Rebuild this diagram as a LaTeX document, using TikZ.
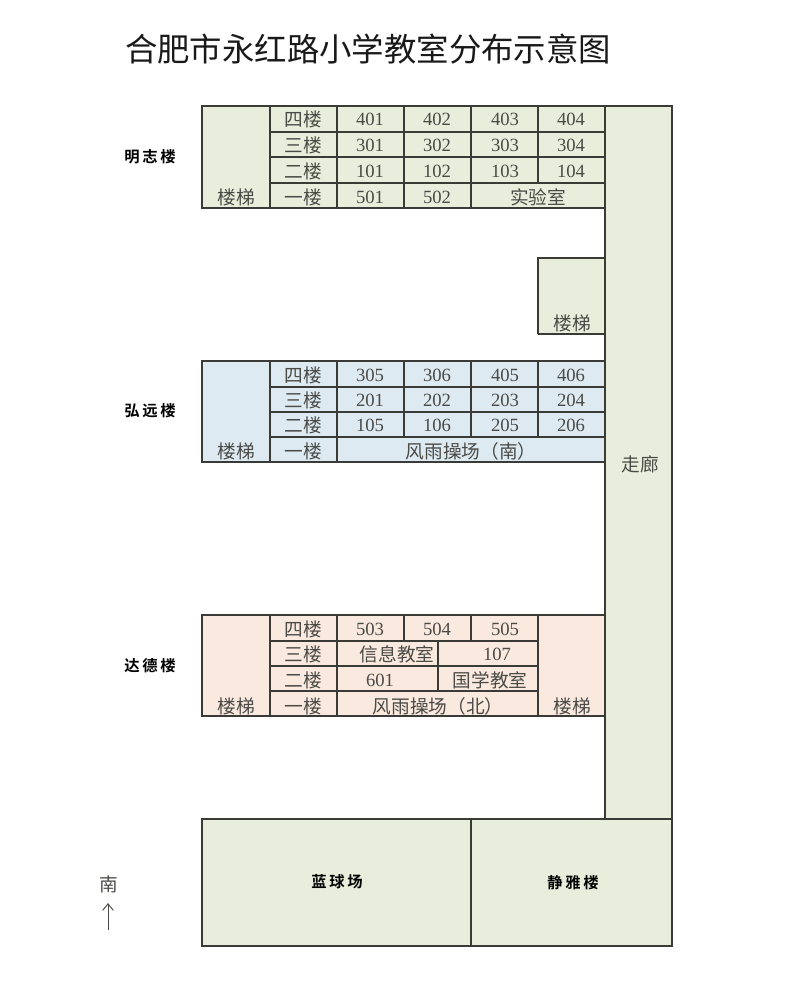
\documentclass[tikz,border=0pt]{standalone}
\usepackage{fontspec}
\usepackage{xcolor}
\usepackage{tikz}
\usetikzlibrary{arrows.meta}
\setmainfont{Liberation Serif}
\newfontfamily\cjk{Noto Sans CJK SC}
\newfontfamily\cjkbold{Noto Sans CJK SC Bold}
\definecolor{zoneGreen}{HTML}{E9EEDC}
\definecolor{zoneBlue}{HTML}{DEEAF2}
\definecolor{zoneOrange}{HTML}{FAE9DE}
\definecolor{wallGrey}{HTML}{3A3A36}
\definecolor{inkGrey}{HTML}{4A4A46}
\tikzset{
	wall/.style={draw=wallGrey, line width=1.1pt},
	room/.style={inner sep=0pt, yshift=-0.6pt, text=inkGrey, font=\fontsize{14}{16}\selectfont},
	cnroom/.style={inner sep=0pt, text=inkGrey, font=\cjk\fontsize{14}{16}\selectfont},
	hall/.style={inner sep=0pt, text=black, font=\cjkbold\fontsize{11.5}{13}\selectfont},
}
\begin{document}
\begin{tikzpicture}[x=0.75pt, y=-0.75pt]
	\useasboundingbox (0,0) rectangle (800,982);
	\node[inner sep=0pt, text=black!90, font=\cjk\fontsize{24.3}{28}\selectfont] at(368, 49) (title){合肥市永红路小学教室分布示意图};
	% corridor and bottom block
	\fill[fill=zoneGreen] (605,106) rectangle (672,819);
	\fill[fill=zoneGreen] (202,819) rectangle (672,946);
	\fill[fill=zoneGreen] (538,258) rectangle (605,334);
	\draw[wall] (605,106) rectangle (672,819);
	\draw[wall] (202,819) rectangle (672,946);
	\draw[wall] (471,819) -- (471,946);
	\draw[wall] (538,334) -- (538,258) -- (605,258);
	\draw[wall] (538,334) -- (605,334);
	% north building
	\fill[fill=zoneGreen] (202,106) rectangle (605,208);
	\draw[wall] (202,106) rectangle (605,208);
	\draw[wall] (270,132) -- (605,132);
	\draw[wall] (270,157) -- (605,157);
	\draw[wall] (270,183) -- (605,183);
	\draw[wall] (270,106) -- (270,208);
	\draw[wall] (337,106) -- (337,208);
	\draw[wall] (404,106) -- (404,208);
	\draw[wall] (471,106) -- (471,208);
	\draw[wall] (538,106) -- (538,183);
	% middle building
	\fill[fill=zoneBlue] (202,361) rectangle (605,462);
	\draw[wall] (202,361) rectangle (605,462);
	\draw[wall] (270,387) -- (605,387);
	\draw[wall] (270,412) -- (605,412);
	\draw[wall] (270,437) -- (605,437);
	\draw[wall] (270,361) -- (270,462);
	\draw[wall] (337,361) -- (337,462);
	\draw[wall] (404,361) -- (404,437);
	\draw[wall] (471,361) -- (471,437);
	\draw[wall] (538,361) -- (538,437);
	% south building
	\fill[fill=zoneOrange] (202,615) rectangle (605,716);
	\draw[wall] (202,615) rectangle (605,716);
	\draw[wall] (270,641) -- (538,641);
	\draw[wall] (270,666) -- (538,666);
	\draw[wall] (270,691) -- (538,691);
	\draw[wall] (270,615) -- (270,716);
	\draw[wall] (337,615) -- (337,716);
	\draw[wall] (404,615) -- (404,641);
	\draw[wall] (471,615) -- (471,641);
	\draw[wall] (438,641) -- (438,691);
	\draw[wall] (538,615) -- (538,716);
	% north labels
	\node[hall] at(150, 157) (mingzhi){明\hspace{2pt}志\hspace{2pt}楼};
	\node[cnroom] at(236, 197) (stairA){楼梯};
	\node[cnroom] at(303, 119) (floorA4){四楼};
	\node[cnroom] at(303, 145) (floorA3){三楼};
	\node[cnroom] at(303, 171) (floorA2){二楼};
	\node[cnroom] at(303, 197) (floorA1){一楼};
	\node[room] at(370, 119) (r401){401};
	\node[room] at(437, 119) (r402){402};
	\node[room] at(505, 119) (r403){403};
	\node[room] at(571, 119) (r404){404};
	\node[room] at(370, 145) (r301){301};
	\node[room] at(437, 145) (r302){302};
	\node[room] at(505, 145) (r303){303};
	\node[room] at(571, 145) (r304){304};
	\node[room] at(370, 171) (r101){101};
	\node[room] at(437, 171) (r102){102};
	\node[room] at(505, 171) (r103){103};
	\node[room] at(571, 171) (r104){104};
	\node[room] at(370, 197) (r501){501};
	\node[room] at(437, 197) (r502){502};
	\node[cnroom] at(538, 197) (lab){实验室};
	% stair by the corridor
	\node[cnroom] at(572, 323) (stairB){楼梯};
	\node[cnroom] at(640, 464) (corridor){走廊};
	% middle labels
	\node[hall] at(150, 411) (hongyuan){弘\hspace{2pt}远\hspace{2pt}楼};
	\node[cnroom] at(236, 451) (stairC){楼梯};
	\node[cnroom] at(303, 375) (floorB4){四楼};
	\node[cnroom] at(303, 400) (floorB3){三楼};
	\node[cnroom] at(303, 425) (floorB2){二楼};
	\node[cnroom] at(303, 451) (floorB1){一楼};
	\node[room] at(370, 375) (r305){305};
	\node[room] at(437, 375) (r306){306};
	\node[room] at(505, 375) (r405){405};
	\node[room] at(571, 375) (r406){406};
	\node[room] at(370, 400) (r201){201};
	\node[room] at(437, 400) (r202){202};
	\node[room] at(505, 400) (r203){203};
	\node[room] at(571, 400) (r204){204};
	\node[room] at(370, 425) (r105){105};
	\node[room] at(437, 425) (r106){106};
	\node[room] at(505, 425) (r205){205};
	\node[room] at(571, 425) (r206){206};
	\node[cnroom] at(471, 451) (gymS){风雨操场（南）};
	% south labels
	\node[hall] at(150, 666) (dade){达\hspace{2pt}德\hspace{2pt}楼};
	\node[cnroom] at(236, 706) (stairD){楼梯};
	\node[cnroom] at(572, 706) (stairE){楼梯};
	\node[cnroom] at(303, 629) (floorC4){四楼};
	\node[cnroom] at(303, 654) (floorC3){三楼};
	\node[cnroom] at(303, 680) (floorC2){二楼};
	\node[cnroom] at(303, 706) (floorC1){一楼};
	\node[room] at(370, 629) (r503){503};
	\node[room] at(437, 629) (r504){504};
	\node[room] at(505, 629) (r505){505};
	\node[cnroom] at(397, 654) (infoRoom){信息教室};
	\node[room] at(497, 654) (r107){107};
	\node[room] at(380, 680) (r601){601};
	\node[cnroom] at(490, 680) (guoxue){国学教室};
	\node[cnroom] at(438, 706) (gymN){风雨操场（北）};
	% bottom block
	\node[hall] at(337, 882) (court){蓝\hspace{2pt}球\hspace{2pt}场};
	\node[hall] at(573, 883) (jingya){静\hspace{2pt}雅\hspace{2pt}楼};
	% compass
	\node[cnroom] at(109, 884) (south){南};
	\coordinate (tail) at(108, 930);
	\coordinate (head) at(108, 903);
	\draw[-{Straight Barb[length=5pt, width=8pt]}, draw=inkGrey, line width=0.7pt] (tail) -- (head);
\end{tikzpicture}
\end{document}
